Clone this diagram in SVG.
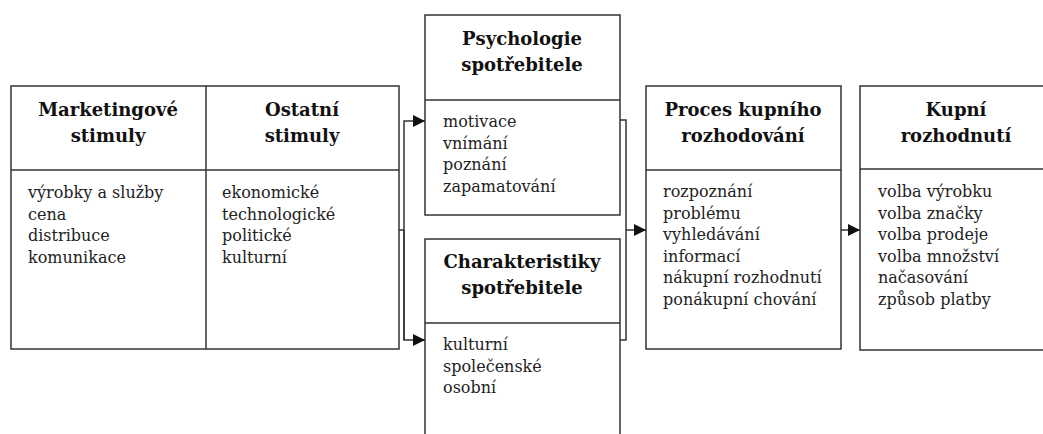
<svg xmlns="http://www.w3.org/2000/svg" width="1043" height="434" viewBox="0 0 1043 434">
<style>
.box{fill:#fff;stroke:#333;stroke-width:1.5}
.ln{fill:none;stroke:#333;stroke-width:1.5}
.h{font-family:"DejaVu Serif","Liberation Serif",serif;font-weight:bold;font-size:18px;fill:#111;text-anchor:middle}
.t{font-family:"DejaVu Serif","Liberation Serif",serif;font-size:16px;fill:#222}
</style>
<defs>
<marker id="arr" viewBox="0 0 12 12" refX="12" refY="6" markerWidth="12" markerHeight="12" markerUnits="userSpaceOnUse" orient="auto">
<path d="M0,0 L12,6 L0,12 z" fill="#111"/>
</marker>
</defs>
<g id="stimuli">
<rect class="box" x="11" y="86" width="388" height="263"/>
<line class="ln" x1="11" y1="170" x2="399" y2="170"/>
<line class="ln" x1="206" y1="86" x2="206" y2="349"/>
<text class="h" x="108" y="116">Marketingové</text>
<text class="h" x="108" y="142">stimuly</text>
<text class="h" x="302" y="116">Ostatní</text>
<text class="h" x="302" y="142">stimuly</text>
<text class="t" x="28" y="198">výrobky a služby</text>
<text class="t" x="28" y="219.5">cena</text>
<text class="t" x="28" y="241">distribuce</text>
<text class="t" x="28" y="262.5">komunikace</text>
<text class="t" x="222" y="198">ekonomické</text>
<text class="t" x="222" y="219.5">technologické</text>
<text class="t" x="222" y="241">politické</text>
<text class="t" x="222" y="262.5">kulturní</text>
</g>
<g id="psychologie">
<rect class="box" x="425" y="15" width="195" height="200"/>
<line class="ln" x1="425" y1="100" x2="620" y2="100"/>
<text class="h" x="522" y="45">Psychologie</text>
<text class="h" x="522" y="71">spotřebitele</text>
<text class="t" x="443" y="127">motivace</text>
<text class="t" x="443" y="148.5">vnímání</text>
<text class="t" x="443" y="170">poznání</text>
<text class="t" x="443" y="191.5">zapamatování</text>
</g>
<g id="charakteristiky">
<rect class="box" x="425" y="239" width="195" height="210"/>
<line class="ln" x1="425" y1="323" x2="620" y2="323"/>
<text class="h" x="522" y="268">Charakteristiky</text>
<text class="h" x="522" y="294">spotřebitele</text>
<text class="t" x="443" y="350">kulturní</text>
<text class="t" x="443" y="371.5">společenské</text>
<text class="t" x="443" y="393">osobní</text>
</g>
<g id="proces">
<rect class="box" x="646" y="86" width="195" height="263"/>
<line class="ln" x1="646" y1="170" x2="841" y2="170"/>
<text class="h" x="743" y="116">Proces kupního</text>
<text class="h" x="743" y="142">rozhodování</text>
<text class="t" x="663" y="197">rozpoznání</text>
<text class="t" x="663" y="218.5">problému</text>
<text class="t" x="663" y="240">vyhledávání</text>
<text class="t" x="663" y="261.5">informací</text>
<text class="t" x="663" y="283">nákupní rozhodnutí</text>
<text class="t" x="663" y="304.5">ponákupní chování</text>
</g>
<g id="kupni">
<rect class="box" x="860" y="86" width="200" height="264"/>
<line class="ln" x1="860" y1="169" x2="1060" y2="169"/>
<text class="h" x="956" y="116">Kupní</text>
<text class="h" x="956" y="142">rozhodnutí</text>
<text class="t" x="878" y="197">volba výrobku</text>
<text class="t" x="878" y="218.5">volba značky</text>
<text class="t" x="878" y="240">volba prodeje</text>
<text class="t" x="878" y="261.5">volba množství</text>
<text class="t" x="878" y="283">načasování</text>
<text class="t" x="878" y="304.5">způsob platby</text>
</g>
<g id="connectors">
<path class="ln" d="M399,230 H404"/>
<path class="ln" d="M404,340 V121 H425" marker-end="url(#arr)"/>
<path class="ln" d="M404,230 V340 H425" marker-end="url(#arr)"/>
<path class="ln" d="M620,120 H626 V340 H620"/>
<path class="ln" d="M626,230 H646" marker-end="url(#arr)"/>
<path class="ln" d="M841,230 H860" marker-end="url(#arr)"/>
</g>
</svg>
